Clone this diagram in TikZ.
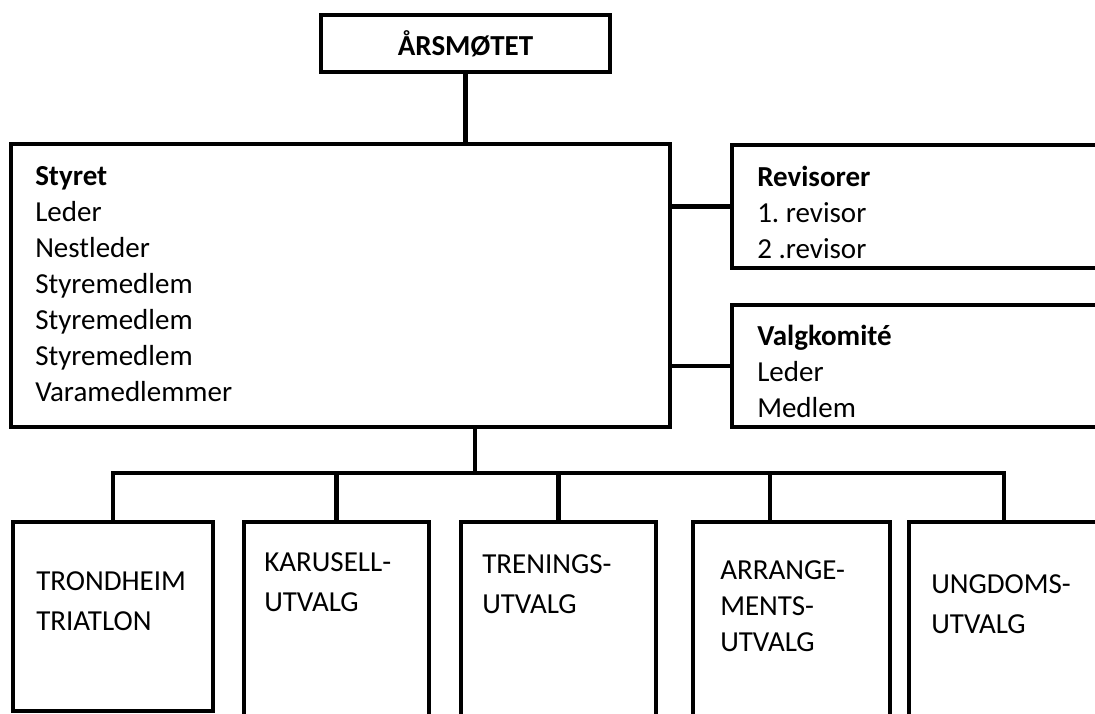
\documentclass[tikz,border=0pt]{standalone}
\usepackage{fontspec}
\setmainfont{Carlito}
\frenchspacing

\begin{document}
\begin{tikzpicture}[x=1pt, y=-1pt, line width=4.5pt]
    \tikzset{font={\fontsize{29pt}{36pt}\selectfont}}
    \tikzset{box/.style={draw, inner sep=0pt, outer sep=0pt},
      txt/.style={anchor=north west, inner sep=0pt, align=left, execute at begin node=\strut},
      txtb/.style={txt, font={\fontsize{29pt}{40pt}\selectfont}}}
    \useasboundingbox (0,0) rectangle (1095,713);
    \clip (0,0) rectangle (1095,713);
    % top
    \node [box, minimum width=289pt, minimum height=57pt] (aarsmote) at (465.5,43.5) {\textbf{ÅRSMØTET}};
    \node [box, minimum width=659pt, minimum height=283pt] (styret) at (340.5,285.5) {};
    \node [txt] (styret-txt) at ([shift={(22pt,-20pt)}]styret.north west) {\textbf{Styret}\\Leder\\Nestleder\\Styremedlem\\Styremedlem\\Styremedlem\\Varamedlemmer};
      \node [box, minimum width=388pt, minimum height=123pt] (revisorer) at (926,206.5) {};
      \node [txt] (revisorer-txt) at ([shift={(23pt,-19pt)}]revisorer.north west) {\textbf{Revisorer}\\1. revisor\\2 .revisor};
      \node [box, minimum width=388pt, minimum height=122pt] (valgkomite) at (926,366) {};
      \node [txt] (valgkomite-txt) at ([shift={(23pt,-18pt)}]valgkomite.north west) {\textbf{Valgkomité}\\Leder\\Medlem};
    % utvalg
    \node [box, minimum width=200pt, minimum height=189pt] (tri) at (113,616.5) {};
    \node [box, minimum width=185pt, minimum height=218pt] (karusell) at (336.5,631) {};
    \node [box, minimum width=195pt, minimum height=218pt] (trening) at (558.5,631) {};
    \node [box, minimum width=197pt, minimum height=218pt] (arrangement) at (791.5,631) {};
    \node [box, minimum width=190pt, minimum height=218pt] (ungdom) at (1004,631) {};
      \node [txtb] (tri-txt) at ([shift={(21pt,-47pt)}]tri.north west) {TRONDHEIM\\TRIATLON};
      \node [txtb] (karusell-txt) at ([shift={(18pt,-28pt)}]karusell.north west) {KARUSELL-\\UTVALG};
      \node [txtb] (trening-txt) at ([shift={(19pt,-30pt)}]trening.north west) {TRENINGS-\\UTVALG};
      \node [txt] (arrangement-txt) at ([shift={(25pt,-36pt)}]arrangement.north west) {ARRANGE-\\MENTS-\\UTVALG};
      \node [txtb] (ungdom-txt) at ([shift={(20pt,-50pt)}]ungdom.north west) {UNGDOMS-\\UTVALG};
    \coordinate (hub) at (475,473);
    \coordinate (arr-top) at (770,522);
    % lines
    \draw (aarsmote.south) -- (aarsmote.south |- styret.north);
    \draw (revisorer.west) -- (revisorer.west -| styret.east);
    \draw (valgkomite.west) -- (valgkomite.west -| styret.east);
    \draw (hub |- styret.south) -- (hub);
    \draw [line cap=rect] (tri.north |- hub) -- (ungdom.north |- hub);
    \foreach \u in {tri, karusell, trening, ungdom}
      \draw (\u.north |- hub) -- (\u.north);
    \draw (arr-top |- hub) -- (arr-top);
\end{tikzpicture}
\end{document}
